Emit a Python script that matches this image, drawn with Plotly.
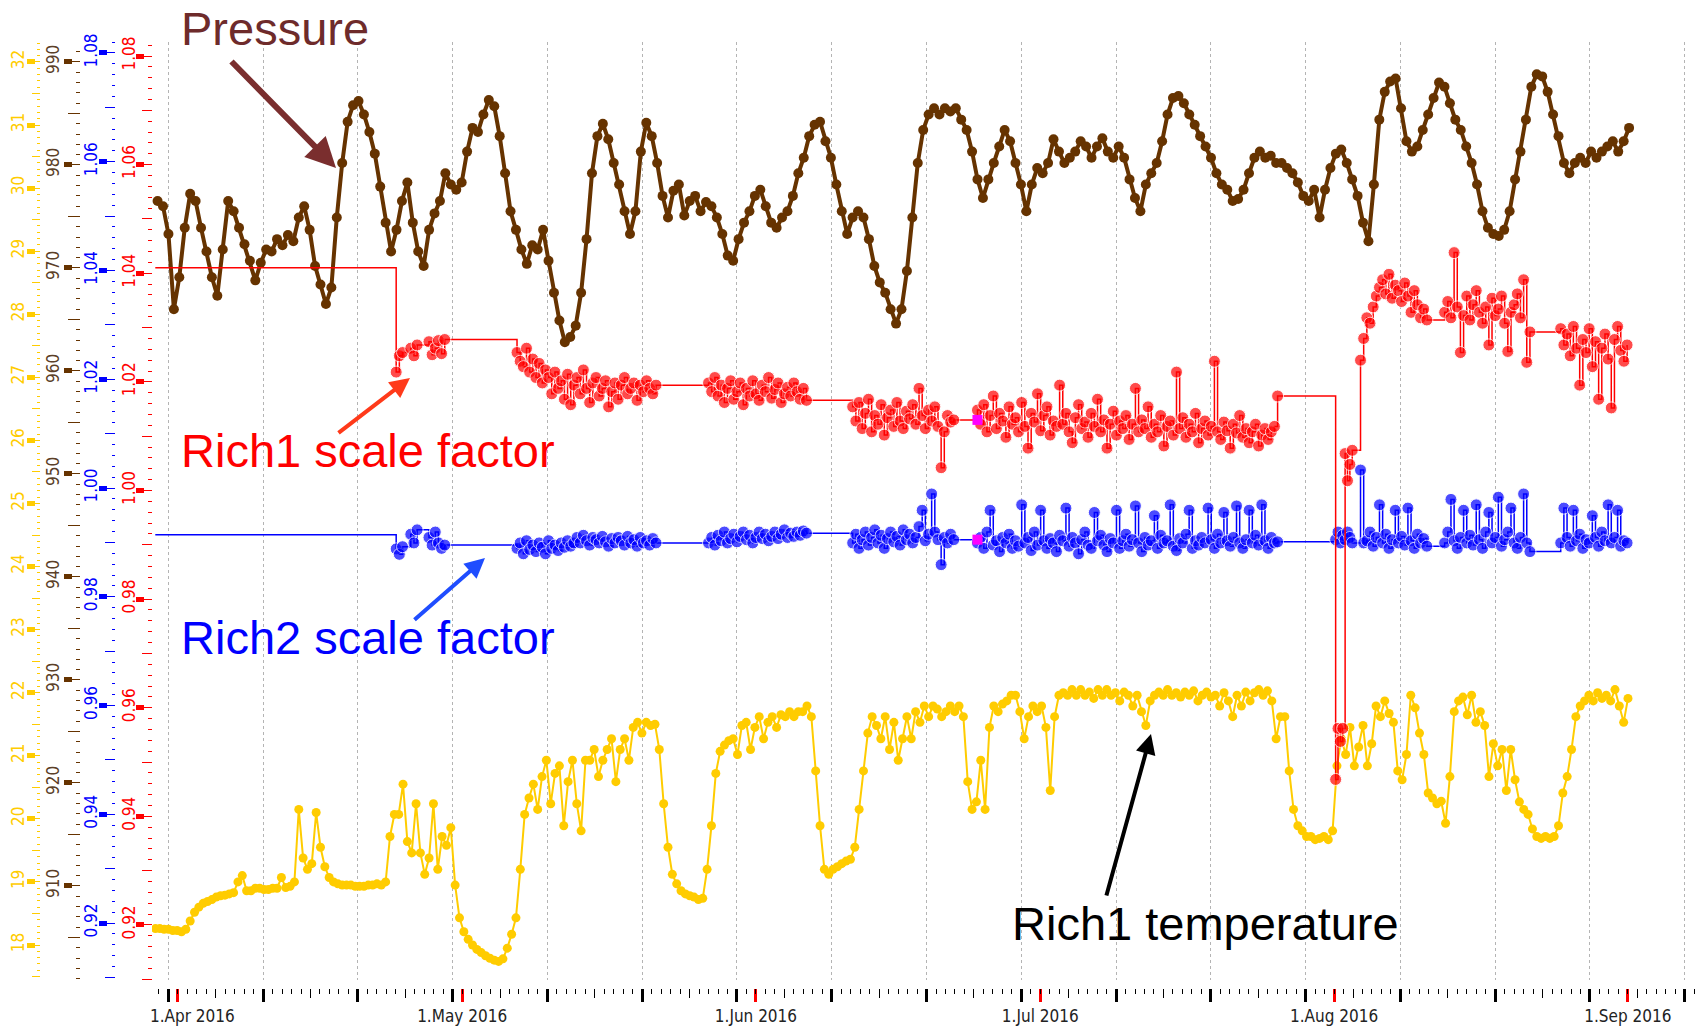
import pandas as pd
import plotly.graph_objects as go

W, H = 1703, 1027

# ---------------- data ----------------
pressure_start = "2016-03-29 20:50"
pressure_step = "13h45min"
pressure_hpa = [
    976.5, 976.0, 973.3, 966.0, 969.1, 973.9, 977.2, 976.5, 973.9, 971.6,
    969.1, 967.3, 971.8, 976.5, 975.5, 973.9, 972.3, 970.7, 968.8, 970.5,
    971.8, 971.6, 972.8, 972.2, 973.2, 972.6, 974.9, 976.0, 973.7, 970.2,
    968.4, 966.5, 968.1, 974.9, 980.2, 984.2, 985.8, 986.2, 984.9, 983.2,
    981.1, 977.9, 974.4, 971.6, 973.7, 976.5, 978.3, 974.4, 971.6, 970.2,
    973.7, 975.3, 976.5, 979.2, 978.1, 977.6, 978.3, 981.3, 983.6, 983.2,
    984.9, 986.3, 985.7, 982.8, 979.2, 975.5, 973.7, 971.8, 970.4, 972.2,
    971.8, 973.7, 970.7, 967.6, 964.9, 962.8, 963.3, 964.4, 967.6, 972.8,
    979.2, 982.8, 984.0, 982.5, 980.2, 978.1, 975.5, 973.3, 975.5, 981.3,
    984.1, 982.8, 980.2, 977.0, 974.9, 977.5, 978.1, 975.1, 976.5, 977.0,
    975.5, 976.4, 976.0, 974.9, 973.3, 971.2, 970.7, 972.8, 974.4, 975.5,
    977.0, 977.6, 976.0, 974.4, 973.9, 974.9, 975.5, 977.0, 979.2, 980.7,
    982.8, 983.9, 984.2, 982.3, 980.7, 978.1, 975.5, 973.3, 974.9, 975.5,
    974.9, 972.8, 970.2, 968.6, 967.6, 966.0, 964.6, 966.0, 969.7, 974.9,
    980.2, 983.4, 984.9, 985.5, 984.9, 985.5, 985.2, 985.5, 984.4, 983.4,
    981.3, 978.6, 976.8, 978.6, 980.2, 981.8, 983.4, 982.3, 980.2, 978.1,
    975.5, 978.1, 979.7, 979.2, 980.2, 982.5, 981.3, 980.2, 980.7, 981.3,
    982.3, 981.8, 980.7, 981.8, 982.6, 981.3, 980.7, 981.8, 980.7, 978.6,
    976.8, 975.5, 978.1, 979.2, 980.2, 982.3, 984.9, 986.5, 986.7, 986.0,
    984.9, 983.9, 982.8, 981.8, 980.7, 979.2, 978.1, 977.6, 976.5, 976.7,
    977.6, 979.2, 980.7, 981.3, 980.7, 980.9, 980.2, 980.2, 979.7, 979.2,
    978.3, 977.0, 976.5, 977.6, 974.9, 977.6, 979.7, 981.1, 981.5, 980.2,
    978.6, 977.0, 974.4, 972.6, 978.1, 984.4, 987.1, 988.1, 988.4, 985.5,
    982.3, 981.3, 981.8, 983.4, 984.9, 986.5, 988.0, 987.6, 986.0, 984.4,
    983.4, 981.8, 980.2, 978.1, 975.5, 973.9, 973.3, 973.1, 973.7, 975.5,
    978.6, 981.3, 984.4, 987.6, 988.8, 988.6, 987.1, 984.9, 982.8, 980.2,
    979.2, 980.2, 980.7, 980.2, 981.3, 980.7, 981.3, 981.8, 982.3, 981.3,
    982.3, 983.6,
]

temp_start = "2016-03-29 15:20"
temp_step = "11h"
rich1_temp_c = [
    18.26, 18.26, 18.25, 18.25, 18.23, 18.23, 18.21, 18.25, 18.38, 18.52,
    18.60, 18.66, 18.69, 18.72, 18.76, 18.78, 18.79, 18.81, 18.83, 19.00,
    19.10, 18.86, 18.86, 18.90, 18.90, 18.88, 18.88, 18.90, 18.90, 19.07,
    18.91, 18.93, 19.00, 20.15, 19.38, 19.20, 19.29, 20.10, 19.55, 19.24,
    19.07, 19.00, 18.97, 18.95, 18.95, 18.95, 18.93, 18.93, 18.93, 18.95,
    18.95, 18.97, 18.95, 19.00, 19.72, 20.07, 20.07, 20.55, 19.64, 19.46,
    20.24, 19.46, 19.12, 19.38, 20.24, 19.20, 19.72, 19.58, 19.86, 18.95,
    18.43, 18.21, 18.09, 18.00, 17.93, 17.88, 17.83, 17.79, 17.76, 17.74,
    17.78, 17.95, 18.17, 18.43, 19.20, 20.07, 20.33, 20.55, 20.15, 20.67,
    20.93, 20.24, 20.72, 20.84, 19.89, 20.59, 20.93, 20.24, 19.81, 20.93,
    20.93, 21.10, 20.67, 20.93, 21.10, 21.27, 20.59, 21.10, 21.27, 20.93,
    21.45, 21.53, 21.36, 21.53, 21.48, 21.50, 21.10, 20.24, 19.55, 19.12,
    18.97, 18.86, 18.81, 18.78, 18.76, 18.72, 18.74, 19.20, 19.89, 20.72,
    21.07, 21.17, 21.24, 21.27, 21.02, 21.48, 21.53, 21.10, 21.45, 21.62,
    21.27, 21.53, 21.62, 21.45, 21.65, 21.62, 21.70, 21.62, 21.70, 21.70,
    21.79, 21.62, 20.76, 19.89, 19.20, 19.12, 19.20, 19.24, 19.29, 19.33,
    19.36, 19.55, 20.15, 20.76, 21.36, 21.62, 21.48, 21.27, 21.62, 21.10,
    21.53, 20.93, 21.27, 21.62, 21.27, 21.70, 21.53, 21.79, 21.62, 21.79,
    21.74, 21.62, 21.70, 21.79, 21.70, 21.79, 21.62, 20.59, 20.15, 20.27,
    20.93, 20.15, 21.45, 21.79, 21.70, 21.82, 21.87, 21.96, 21.96, 21.70,
    21.27, 21.62, 21.79, 21.70, 21.79, 21.45, 20.45, 21.62, 21.96, 22.00,
    21.96, 22.05, 21.96, 22.05, 21.96, 22.01, 21.91, 22.05, 21.96, 22.05,
    21.96, 22.00, 21.87, 22.01, 21.96, 21.79, 21.96, 21.70, 21.48, 21.87,
    21.96, 22.01, 21.96, 22.05, 21.96, 22.00, 21.93, 22.01, 21.96, 22.03,
    21.87, 21.96, 22.01, 21.93, 21.96, 21.79, 22.00, 21.87, 21.62, 21.96,
    21.79, 22.01, 21.87, 22.00, 22.05, 21.96, 22.03, 21.87, 21.27, 21.62,
    21.62, 20.76, 20.15, 19.89, 19.81, 19.72, 19.72, 19.67, 19.69, 19.72,
    19.67, 19.81, 20.84, 21.27, 21.02, 21.45, 20.84, 21.14, 21.48, 20.84,
    21.19, 21.79, 21.62, 21.87, 21.67, 21.53, 20.76, 20.62, 21.02, 21.96,
    21.76, 21.36, 21.02, 20.41, 20.33, 20.24, 20.28, 19.93, 20.67, 21.70,
    21.87, 21.93, 21.65, 21.96, 21.53, 21.70, 21.48, 20.67, 21.19, 20.84,
    21.10, 20.45, 21.10, 20.62, 20.27, 20.15, 20.07, 19.84, 19.72, 19.69,
    19.72, 19.69, 19.72, 19.89, 20.41, 20.67, 21.10, 21.62, 21.79, 21.87,
    21.96, 21.87, 22.00, 21.91, 21.96, 21.87, 22.05, 21.79, 21.53, 21.91,
]

# scale-factor data come in runs (start time, spacing in hours)
seg_start = ["2016-03-29 15:00", "2016-04-24 01:00", "2016-04-25 14:00", "2016-04-27 12:00",
             "2016-05-06 19:00", "2016-05-27 00:00", "2016-06-11 05:00", "2016-06-24 09:00",
             "2016-08-01 04:00", "2016-08-03 19:00", "2016-08-12 16:00", "2016-08-24 22:00"]
seg_step_h = [8, 8, 8, 8, 8, 8, 8, 8, 6, 8, 8, 8]

rich1_scale = [
    [1.0410],
    [1.0218, 1.0248, 1.0254],
    [1.0262, 1.0248, 1.0268],
    [1.0274, 1.0250, 1.0262, 1.0276, 1.0252, 1.0278],
    [1.0254, 1.0238, 1.0228, 1.0262, 1.0218, 1.0242, 1.0208, 1.0234, 1.0198, 1.0222,
     1.0208, 1.0178, 1.0218, 1.0188, 1.0202, 1.0168, 1.0214, 1.0158, 1.0194, 1.0208,
     1.0178, 1.0222, 1.0188, 1.0162, 1.0198, 1.0208, 1.0174, 1.0188, 1.0202, 1.0154,
     1.0182, 1.0198, 1.0168, 1.0194, 1.0208, 1.0178, 1.0188, 1.0198, 1.0166, 1.0194,
     1.0182, 1.0202, 1.0188, 1.0178, 1.0194],
    [1.0198, 1.0182, 1.0208, 1.0174, 1.0194, 1.0162, 1.0188, 1.0202, 1.0168, 1.0182,
     1.0198, 1.0158, 1.0188, 1.0174, 1.0202, 1.0178, 1.0166, 1.0194, 1.0182, 1.0208,
     1.0170, 1.0186, 1.0198, 1.0162, 1.0178, 1.0190, 1.0174, 1.0198, 1.0182, 1.0168,
     1.0188, 1.0166],
    [1.0154, 1.0128, 1.0162, 1.0114, 1.0142, 1.0168, 1.0108, 1.0138, 1.0122, 1.0158,
     1.0102, 1.0134, 1.0148, 1.0118, 1.0162, 1.0128, 1.0114, 1.0146, 1.0132, 1.0158,
     1.0122, 1.0188, 1.0138, 1.0114, 1.0148, 1.0128, 1.0154, 1.0118, 1.0042, 1.0108,
     1.0138, 1.0126, 1.0130],
    [1.0148, 1.0122, 1.0158, 1.0108, 1.0138, 1.0174, 1.0114, 1.0142, 1.0128, 1.0098,
     1.0154, 1.0122, 1.0134, 1.0108, 1.0162, 1.0118, 1.0078, 1.0142, 1.0126, 1.0178,
     1.0110, 1.0138, 1.0154, 1.0102, 1.0128, 1.0118, 1.0194, 1.0122, 1.0142, 1.0108,
     1.0088, 1.0134, 1.0158, 1.0114, 1.0126, 1.0098, 1.0142, 1.0118, 1.0168, 1.0108,
     1.0130, 1.0078, 1.0122, 1.0146, 1.0102, 1.0128, 1.0114, 1.0138, 1.0094, 1.0122,
     1.0188, 1.0108, 1.0130, 1.0114, 1.0154, 1.0098, 1.0122, 1.0108, 1.0138, 1.0082,
     1.0118, 1.0128, 1.0102, 1.0218, 1.0114, 1.0134, 1.0098, 1.0122, 1.0108, 1.0142,
     1.0088, 1.0114, 1.0128, 1.0102, 1.0118, 1.0238, 1.0108, 1.0094, 1.0126, 1.0110,
     1.0078, 1.0122, 1.0106, 1.0138, 1.0098, 1.0114, 1.0088, 1.0108, 1.0122, 1.0082,
     1.0102, 1.0114, 1.0094, 1.0108, 1.0118, 1.0174],
    [0.9468, 0.9562, 0.9538, 0.9562, 1.0068, 1.0018, 1.0048, 1.0074],
    [1.0240, 1.0280, 1.0318, 1.0308, 1.0338, 1.0358, 1.0374, 1.0388, 1.0362, 1.0398,
     1.0354, 1.0378, 1.0368, 1.0348, 1.0382, 1.0358, 1.0328, 1.0368, 1.0342, 1.0318,
     1.0334, 1.0314],
    [1.0328, 1.0348, 1.0318, 1.0438, 1.0338, 1.0254, 1.0322, 1.0358, 1.0314, 1.0342,
     1.0368, 1.0328, 1.0308, 1.0338, 1.0268, 1.0354, 1.0322, 1.0334, 1.0358, 1.0308,
     1.0256, 1.0328, 1.0342, 1.0362, 1.0318, 1.0388, 1.0236, 1.0292],
    [1.0298, 1.0268, 1.0288, 1.0248, 1.0302, 1.0262, 1.0194, 1.0278, 1.0254, 1.0298,
     1.0228, 1.0274, 1.0168, 1.0262, 1.0288, 1.0242, 1.0152, 1.0278, 1.0302, 1.0258,
     1.0238, 1.0268],
]

rich2_scale = [
    [0.9914],
    [0.9888, 0.9878, 0.9892],
    [0.9915, 0.9899, 0.9923],
    [0.9909, 0.9895, 0.9919, 0.9899, 0.9889, 0.9895],
    [0.9889, 0.9899, 0.9879, 0.9903, 0.9887, 0.9895, 0.9883, 0.9899, 0.9891, 0.9879,
     0.9903, 0.9889, 0.9895, 0.9885, 0.9899, 0.9891, 0.9903, 0.9893, 0.9899, 0.9909,
     0.9899, 0.9913, 0.9903, 0.9895, 0.9909, 0.9905, 0.9899, 0.9911, 0.9901, 0.9893,
     0.9907, 0.9899, 0.9909, 0.9903, 0.9895, 0.9911, 0.9899, 0.9905, 0.9893, 0.9909,
     0.9899, 0.9903, 0.9895, 0.9907, 0.9899],
    [0.9899, 0.9909, 0.9895, 0.9913, 0.9903, 0.9919, 0.9899, 0.9907, 0.9915, 0.9901,
     0.9911, 0.9919, 0.9905, 0.9913, 0.9899, 0.9909, 0.9919, 0.9907, 0.9915, 0.9903,
     0.9911, 0.9919, 0.9907, 0.9915, 0.9923, 0.9909, 0.9917, 0.9911, 0.9919, 0.9913,
     0.9921, 0.9917],
    [0.9899, 0.9915, 0.9889, 0.9905, 0.9919, 0.9895, 0.9909, 0.9923, 0.9899, 0.9913,
     0.9889, 0.9907, 0.9919, 0.9901, 0.9911, 0.9895, 0.9923, 0.9905, 0.9915, 0.9899,
     0.9909, 0.9929, 0.9959, 0.9903, 0.9915, 0.9989, 0.9919, 0.9905, 0.9859, 0.9909,
     0.9899, 0.9915, 0.9905],
    [0.9899, 0.9909, 0.9889, 0.9919, 0.9959, 0.9895, 0.9903, 0.9883, 0.9909, 0.9899,
     0.9915, 0.9889, 0.9903, 0.9893, 0.9969, 0.9899, 0.9909, 0.9885, 0.9919, 0.9895,
     0.9959, 0.9903, 0.9889, 0.9907, 0.9899, 0.9883, 0.9913, 0.9903, 0.9963, 0.9893,
     0.9909, 0.9899, 0.9879, 0.9905, 0.9919, 0.9895, 0.9889, 0.9955, 0.9903, 0.9913,
     0.9895, 0.9883, 0.9907, 0.9899, 0.9959, 0.9889, 0.9903, 0.9915, 0.9893, 0.9905,
     0.9967, 0.9899, 0.9883, 0.9909, 0.9895, 0.9903, 0.9949, 0.9889, 0.9913, 0.9899,
     0.9903, 0.9969, 0.9893, 0.9885, 0.9907, 0.9899, 0.9915, 0.9959, 0.9889, 0.9903,
     0.9895, 0.9909, 0.9899, 0.9963, 0.9905, 0.9889, 0.9915, 0.9899, 0.9955, 0.9903,
     0.9893, 0.9909, 0.9967, 0.9899, 0.9889, 0.9905, 0.9959, 0.9899, 0.9913, 0.9895,
     0.9969, 0.9903, 0.9889, 0.9909, 0.9899, 0.9901],
    [0.9905, 0.9919, 0.9899, 0.9913, 0.9905, 0.9919, 0.9909, 0.9899],
    [1.0033, 0.9899, 0.9903, 0.9919, 0.9893, 0.9909, 0.9969, 0.9899, 0.9915, 0.9889,
     0.9905, 0.9959, 0.9899, 0.9911, 0.9895, 0.9963, 0.9903, 0.9889, 0.9915, 0.9899,
     0.9907, 0.9893],
    [0.9899, 0.9919, 0.9979, 0.9903, 0.9889, 0.9909, 0.9959, 0.9899, 0.9913, 0.9895,
     0.9969, 0.9905, 0.9889, 0.9919, 0.9955, 0.9899, 0.9909, 0.9983, 0.9893, 0.9905,
     0.9919, 0.9963, 0.9899, 0.9889, 0.9909, 0.9989, 0.9899, 0.9883],
    [0.9899, 0.9963, 0.9909, 0.9893, 0.9959, 0.9903, 0.9915, 0.9889, 0.9905, 0.9899,
     0.9949, 0.9909, 0.9893, 0.9919, 0.9903, 0.9969, 0.9899, 0.9909, 0.9959, 0.9893,
     0.9903, 0.9899],
]

flag_time = ["2016-06-24 09:00"]
flag_rich1 = [1.0130]
flag_rich2 = [0.9905]

month_ticks = ["2016-04-01", "2016-05-01", "2016-06-01", "2016-07-01", "2016-08-01", "2016-09-01"]
month_labels = ["\u00a0" * 6 + "1.Apr 2016", "1.May 2016", "1.Jun 2016", "1.Jul 2016", "1.Aug 2016", "1.Sep 2016"]

# ---------------- build series ----------------
p_time = pd.date_range(pressure_start, periods=len(pressure_hpa), freq=pressure_step)
t_time = pd.date_range(temp_start, periods=len(rich1_temp_c), freq=temp_step)
s_time, r1, r2 = [], [], []
for st, step, a, b in zip(seg_start, seg_step_h, rich1_scale, rich2_scale):
    s_time += list(pd.date_range(st, periods=len(a), freq=f"{step}h"))
    r1 += a
    r2 += b
msize = [0] + [12] * (len(s_time) - 1)


def px(x):
    return x / W


def py(y):
    return 1 - y / H


YDOM = [py(980), py(42)]
XRANGE = ["2016-03-29 06:40", "2016-09-08 02:00"]
LBL = dict(family="DejaVu Sans Condensed, DejaVu Sans", size=17)

BROWN = "#663300"
GOLD = "#FFCC00"
BLUE = "#0000FF"
RED = "#FF0000"

fig = go.Figure()
fig.add_trace(go.Scatter(x=p_time, y=pressure_hpa, yaxis="y2", mode="lines+markers",
                         line=dict(color=BROWN, width=4), marker=dict(color=BROWN, size=10),
                         hoverinfo="skip", showlegend=False))
fig.add_trace(go.Scatter(x=t_time, y=rich1_temp_c, yaxis="y", mode="lines+markers",
                         line=dict(color=GOLD, width=2), marker=dict(color=GOLD, size=9),
                         hoverinfo="skip", showlegend=False))
fig.add_trace(go.Scatter(x=s_time, y=r2, yaxis="y3", mode="lines+markers", line_shape="hv",
                         line=dict(color=BLUE, width=1.5), marker=dict(color=BLUE, size=msize),
                         hoverinfo="skip", showlegend=False))
fig.add_trace(go.Scatter(x=s_time, y=r1, yaxis="y4", mode="lines+markers", line_shape="hv",
                         line=dict(color=RED, width=1.5), marker=dict(color=RED, size=msize),
                         hoverinfo="skip", showlegend=False))
fig.add_trace(go.Scatter(x=flag_time, y=flag_rich1, yaxis="y4", mode="markers",
                         marker=dict(color="#FF00FF", size=10, symbol="square"),
                         hoverinfo="skip", showlegend=False))
fig.add_trace(go.Scatter(x=flag_time, y=flag_rich2, yaxis="y3", mode="markers",
                         marker=dict(color="#FF00FF", size=10, symbol="square"),
                         hoverinfo="skip", showlegend=False))
# empty traces so the tick-only overlay axes exist
for ya in ["y5", "y6", "y7", "y8"]:
    fig.add_trace(go.Scatter(x=[], y=[], yaxis=ya, hoverinfo="skip", showlegend=False))
fig.add_trace(go.Scatter(x=[], y=[], xaxis="x2", yaxis="y", hoverinfo="skip", showlegend=False))


def frange(a, b, s, nd):
    out, v = [], a
    while v <= b + s / 1000:
        out.append(round(v, nd))
        v += s
    return out


def main_axis(rng, pos, color, lblcolor, vals, texts, tlen, mdt, mlen, standoff, overlay=True):
    d = dict(domain=YDOM, range=rng, anchor="free", position=pos, side="left",
             automargin=False,
             tickmode="array", tickvals=vals, ticktext=texts, ticks="outside",
             ticklen=tlen, tickwidth=1, tickcolor=color, tickangle=-90,
             tickfont=dict(color=lblcolor, **LBL), ticklabelstandoff=standoff,
             showgrid=False, zeroline=False, showline=False,
             minor=dict(tickmode="linear", tick0=0, dtick=mdt, ticks="outside",
                        ticklen=mlen, tickwidth=1, tickcolor=color, showgrid=False))
    if overlay:
        d["overlaying"] = "y"
    return d


def thick_axis(rng, pos, color, vals):
    return dict(domain=YDOM, range=rng, anchor="free", position=pos, side="left",
                overlaying="y", automargin=False, tickmode="array", tickvals=vals,
                ticks="outside", ticklen=8, tickwidth=5, tickcolor=color,
                showticklabels=False, showgrid=False, zeroline=False, showline=False)


t_vals = frange(17.5, 32.0, 0.5, 1)
t_txt = [str(int(v)) if v == int(v) else "" for v in t_vals]
p_vals = frange(905, 990, 5, 0)
p_txt = [str(int(v)) if int(v) % 10 == 0 else "" for v in p_vals]
s_vals = frange(0.91, 1.08, 0.01, 2)
s_txt = [f"{v:.2f}" if round(v * 100) % 2 == 0 else "" for v in s_vals]

T_RNG = [17.445, 32.317]
P_RNG = [900.87, 991.94]
B_RNG = [0.90952, 1.08202]
R_RNG = [0.90987, 1.08258]

fig.update_layout(
    width=W, height=H, autosize=False,
    margin=dict(l=0, r=0, t=0, b=0, pad=0, autoexpand=False),
    paper_bgcolor="white", plot_bgcolor="white",
    xaxis=dict(domain=[px(152), px(1695)], range=XRANGE, type="date", anchor="free",
               automargin=False,
               position=py(988), tickmode="array", tickvals=month_ticks, ticktext=month_labels,
               ticks="outside", ticklen=13, tickwidth=3, tickcolor=RED,
               tickfont=dict(color="#222222", **LBL), showgrid=False, zeroline=False,
               showline=False,
               minor=dict(tickmode="linear", tick0="2016-03-31", dtick=864000000,
                          ticks="outside", ticklen=13, tickwidth=3, tickcolor="black",
                          showgrid=True, gridcolor="#b4b4b4", gridwidth=1, griddash="dot")),
    xaxis2=dict(domain=[px(152), px(1695)], range=XRANGE, type="date", anchor="free",
                automargin=False,
                position=py(988), overlaying="x", tickmode="linear", tick0="2016-03-31",
                dtick=432000000, ticks="outside", ticklen=9, tickwidth=1, tickcolor="black",
                showticklabels=False, showgrid=False, zeroline=False, showline=False,
                minor=dict(tickmode="linear", tick0="2016-03-31", dtick=86400000,
                           ticks="outside", ticklen=5, tickwidth=1, tickcolor="black",
                           showgrid=False)),
    yaxis=main_axis(T_RNG, px(40), GOLD, GOLD, t_vals, t_txt, 8, 0.1, 3, 1, overlay=False),
    yaxis2=main_axis(P_RNG, px(80), BROWN, "#5b4028", p_vals, p_txt, 12, 1, 4, 2),
    yaxis3=main_axis(B_RNG, px(115), BLUE, BLUE, s_vals, s_txt, 10, 0.002, 3, 1),
    yaxis4=main_axis(R_RNG, px(152), RED, RED, s_vals, s_txt, 10, 0.002, 4, 0),
    yaxis5=thick_axis(T_RNG, px(35), GOLD, frange(18, 32, 1, 0)),
    yaxis6=thick_axis(P_RNG, px(72), BROWN, frange(910, 990, 10, 0)),
    yaxis7=thick_axis(B_RNG, px(107), BLUE, frange(0.92, 1.08, 0.02, 2)),
    yaxis8=thick_axis(R_RNG, px(144), RED, frange(0.92, 1.08, 0.02, 2)),
)

TXT = "Liberation Sans, Arial, sans-serif"
texts = [
    ("Pressure", 179, 28, "#6e2b2b"),
    ("Rich1 scale factor", 179, 451, "#FF0000"),
    ("Rich2 scale factor", 179, 637, "#0000FF"),
    ("Rich1 temperature", 1010, 923, "#000000"),
]
for t, x, y, c in texts:
    fig.add_annotation(text=t, x=px(x), y=py(y), xref="paper", yref="paper",
                       xanchor="left", yanchor="middle", showarrow=False,
                       font=dict(family=TXT, size=47, color=c))

arrows = [
    ((336, 168), (230, 60), "#7a2e2e", 6),
    ((410, 378), (337, 434), "#ff3a1a", 4),
    ((485, 558), (413, 621), "#1f4dff", 4),
    ((1151, 734), (1106, 897), "#000000", 4),
]
for (hx, hy), (tx, ty), c, w in arrows:
    fig.add_annotation(text="", x=px(hx), y=py(hy), xref="paper", yref="paper",
                       ax=tx - hx, ay=ty - hy, axref="pixel", ayref="pixel",
                       showarrow=True, arrowhead=2, arrowsize=1.0, arrowwidth=w,
                       arrowcolor=c, standoff=0)

fig.write_html("out.html")
